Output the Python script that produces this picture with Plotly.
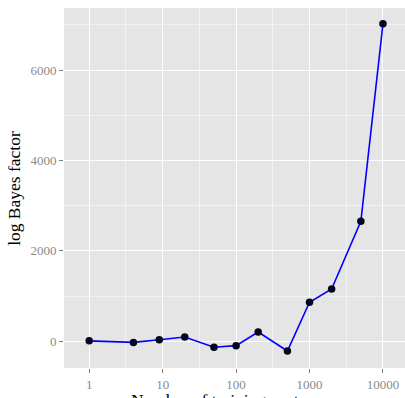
import plotly.graph_objects as go

sentences = [1, 4, 9, 20, 50, 100, 200, 500, 1000, 2000, 5000, 10000]
log_bayes = [10, -25, 35, 95, -133, -97, 206, -215, 863, 1157, 2655, 7026]

x_ticks = [1, 10, 100, 1000, 10000]
x_tick_labels = ["1", "10", "100", "1000", "10000"]
x_minor = [10 ** 0.5, 10 ** 1.5, 10 ** 2.5, 10 ** 3.5]
y_ticks = [0, 2000, 4000, 6000]

font_family = "Liberation Serif, Times New Roman, serif"

fig = go.Figure()
fig.add_trace(go.Scatter(
    x=sentences, y=log_bayes, mode="lines+markers",
    line=dict(color="#0000FF", width=1.6),
    marker=dict(color="#050520", size=7.5, line=dict(width=0)),
    showlegend=False,
))

fig.update_layout(
    width=405, height=398,
    margin=dict(l=64, r=0, t=8, b=30),
    paper_bgcolor="white",
    plot_bgcolor="#E5E5E5",
    font=dict(family=font_family),
    xaxis=dict(
        type="log",
        range=[-0.343, 4.30],
        tickvals=x_ticks, ticktext=x_tick_labels,
        showgrid=True, gridcolor="white", gridwidth=1.3,
        minor=dict(tickvals=x_minor, showgrid=True, gridcolor="#F2F2F2", gridwidth=0.7, ticks=""),
        ticks="outside", ticklen=4, tickcolor="#7F7F7F", tickwidth=1,
        tickfont=dict(size=13, color="#8A8A8A", family=font_family),
        zeroline=False, showline=False,
        automargin=False,
    ),
    yaxis=dict(
        range=[-591, 7374],
        tickvals=y_ticks,
        showgrid=True, gridcolor="white", gridwidth=1.3,
        minor=dict(dtick=1000, tick0=0, showgrid=True, gridcolor="#F2F2F2", gridwidth=0.7, ticks=""),
        ticks="outside", ticklen=4, tickcolor="#7F7F7F", tickwidth=1,
        tickfont=dict(size=13, color="#8A8A8A", family=font_family),
        zeroline=False, showline=False,
        automargin=False,
    ),
    annotations=[
        dict(
            text="Number of training sentences", xref="paper", yref="paper",
            x=0.5, y=-0.056, xanchor="center", yanchor="top", showarrow=False,
            font=dict(size=17.5, color="black", family=font_family),
        ),
        dict(
            text="log Bayes factor", xref="paper", yref="paper",
            x=-0.147, y=0.50, xanchor="center", yanchor="middle", showarrow=False,
            textangle=-90,
            font=dict(size=17.5, color="black", family=font_family),
        ),
    ],
)

fig.write_html("out.html")
